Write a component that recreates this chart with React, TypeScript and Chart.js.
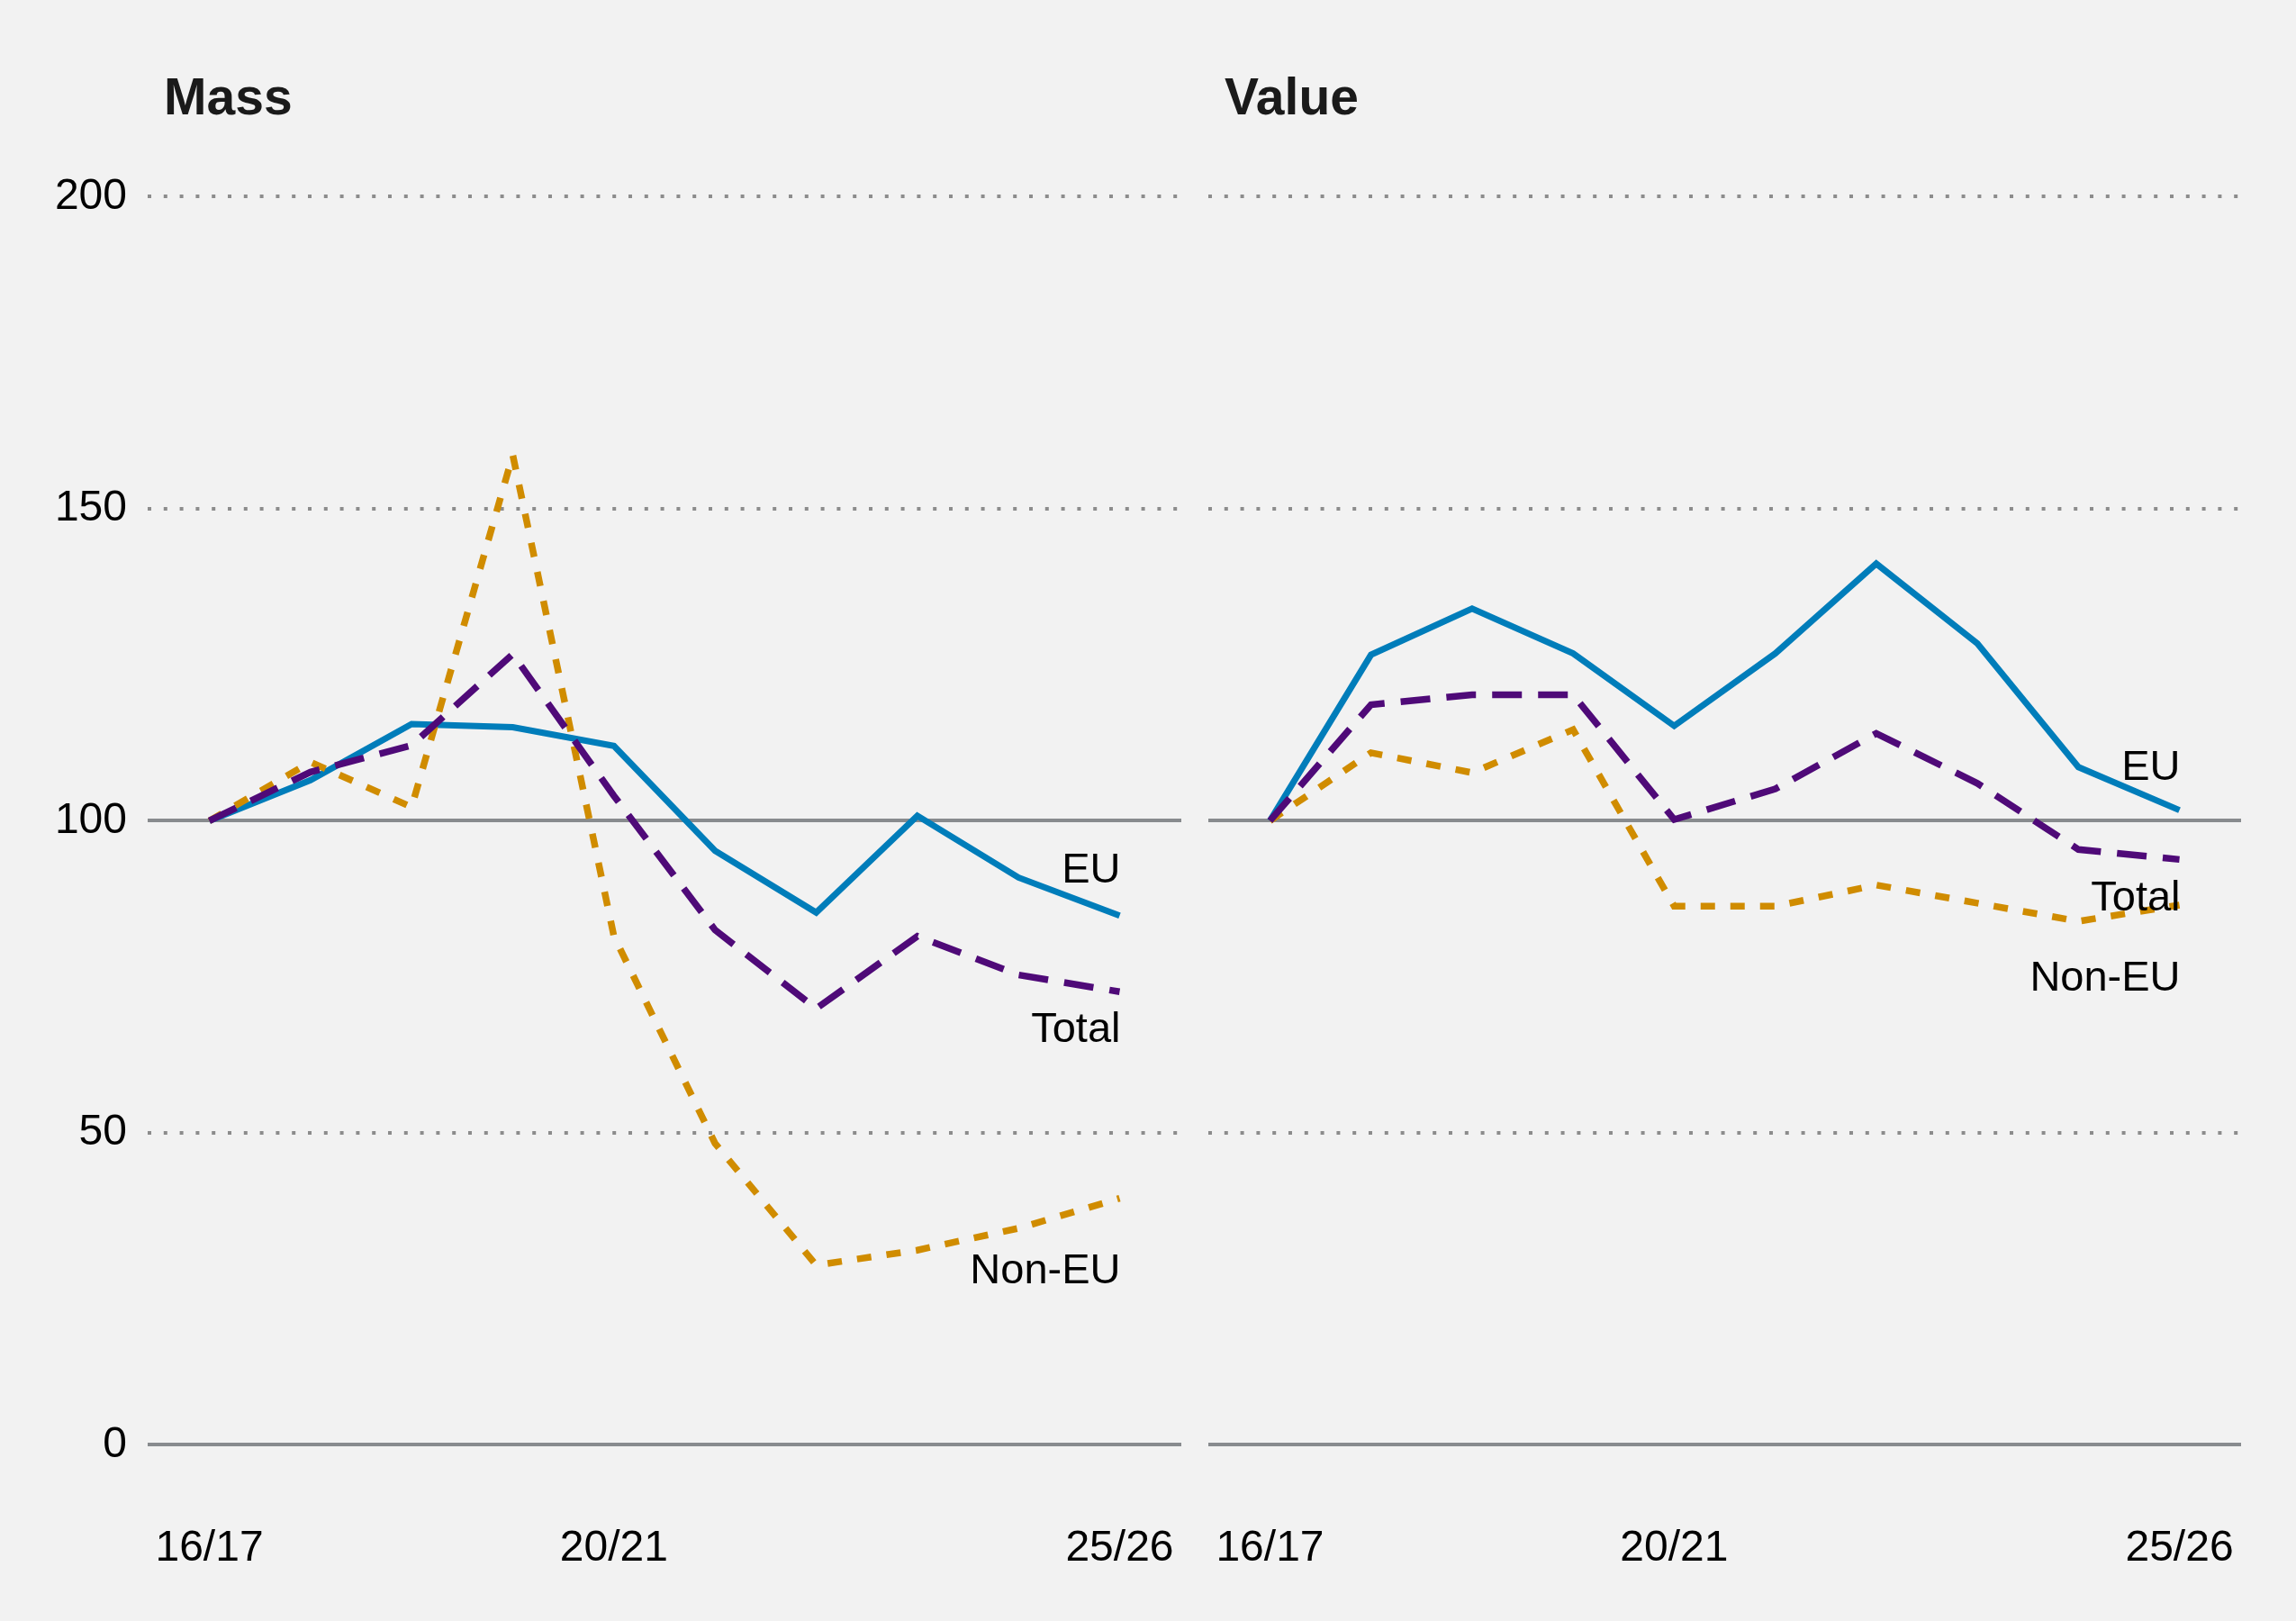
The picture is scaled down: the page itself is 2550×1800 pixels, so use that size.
import { useEffect, useRef } from 'react';
import { Chart, registerables } from 'chart.js';

Chart.register(...registerables);

// financial years on the x axis
const periods = ['16/17', '17/18', '18/19', '19/20', '20/21', '21/22', '22/23', '23/24', '24/25', '25/26'];
const shownTicks = [0, 4, 9];
const yTicks = [0, 50, 100, 150, 200];
const solidLines = [0, 100];

// index, 16/17 = 100
const massEU = [100, 106.5, 115.5, 115.0, 112.0, 95.2, 85.3, 100.8, 90.9, 84.8];
const massTotal = [100, 107.8, 112.1, 126.7, 104.0, 82.5, 69.9, 81.5, 75.3, 72.6];
const massNonEU = [100, 109.4, 102.2, 158.6, 81.5, 48.3, 28.8, 31.2, 34.7, 39.5];

const valueEU = [100, 126.6, 134.0, 126.8, 115.2, 126.8, 141.2, 128.4, 108.6, 101.7];
const valueTotal = [100, 118.6, 120.2, 120.2, 100.2, 105.1, 114.0, 106.0, 95.4, 93.8];
const valueNonEU = [100, 110.9, 107.7, 114.6, 86.3, 86.3, 89.7, 86.8, 83.9, 86.5];

// where the end-of-line names sit (in index units)
const seriesNames = ['EU', 'Total', 'Non-EU'];
const massLabelY = [92.0, 66.4, 27.7];
const valueLabelY = [108.4, 87.5, 74.6];

const BLUE = '#007dba';
const PURPLE = '#4f0a78';
const ORANGE = '#d08c00';
const FONT = '"Liberation Sans", Arial, Helvetica, sans-serif';

interface PanelProps {
  title: string;
  eu: number[];
  total: number[];
  nonEu: number[];
  labelY: number[];
  left: number;
  width: number;
  padLeft: number;
  padRight: number;
  showY: boolean;
}

function Panel({ title, eu, total, nonEu, labelY, left, width, padLeft, padRight, showY }: PanelProps) {
  const chartRef = useRef<HTMLCanvasElement>(null);

  useEffect(() => {
    if (!chartRef.current) return;
    const toPoints = (arr: number[]) => arr.map((y, i) => ({ x: i, y }));
    const isSolid = (c: any) => c.tick && solidLines.includes(c.tick.value);

    const textPlugin = {
      id: 'panelText',
      afterDatasetsDraw(chart: any) {
        const { ctx, chartArea, scales } = chart;
        ctx.save();
        // panel title
        ctx.font = `bold 57px ${FONT}`;
        ctx.fillStyle = '#1a1a1a';
        ctx.textAlign = 'left';
        ctx.textBaseline = 'alphabetic';
        ctx.fillText(title, chartArea.left + 18, 127);
        // series names at the line ends
        ctx.font = `47px ${FONT}`;
        ctx.fillStyle = '#000';
        ctx.textAlign = 'right';
        ctx.textBaseline = 'middle';
        const xEnd = scales.x.getPixelForValue(periods.length - 1);
        seriesNames.forEach((name, i) => {
          ctx.fillText(name, xEnd + 1, scales.y.getPixelForValue(labelY[i]));
        });
        ctx.restore();
      }
    };

    const chart = new Chart(chartRef.current, {
      type: 'line',
      data: {
        datasets: [
          {
            label: 'Total',
            data: toPoints(total),
            borderColor: PURPLE,
            borderWidth: 7.5,
            borderDash: [33, 18],
          },
          {
            label: 'Non-EU',
            data: toPoints(nonEu),
            borderColor: ORANGE,
            borderWidth: 7.5,
            borderDash: [16, 17],
          },
          {
            label: 'EU',
            data: toPoints(eu),
            borderColor: BLUE,
            borderWidth: 7,
          },
        ]
      },
      options: {
        animation: false,
        responsive: false,
        layout: { padding: { top: 218.4, left: padLeft, right: padRight, bottom: 0 } },
        elements: { point: { radius: 0 }, line: { tension: 0 } },
        plugins: {
          legend: { display: false },
          tooltip: { enabled: false },
        },
        scales: {
          x: {
            type: 'linear',
            min: -0.61,
            max: 9.61,
            grid: { display: false },
            border: { display: false },
            afterBuildTicks: (s: any) => { s.ticks = shownTicks.map(v => ({ value: v })); },
            afterFit: (s: any) => {
              s.height = 195.6;
              s.paddingLeft = 0;
              s.paddingRight = 0;
            },
            ticks: {
              autoSkip: false,
              maxRotation: 0,
              padding: 79,
              color: '#000',
              font: { family: FONT, size: 48 },
              callback: (v: any) => periods[v as number] ?? '',
            }
          },
          y: {
            min: 0,
            max: 200,
            afterBuildTicks: (s: any) => { s.ticks = yTicks.map(v => ({ value: v })); },
            afterFit: (s: any) => { s.width = showY ? 164 : 0; },
            grid: {
              drawTicks: false,
              lineWidth: 4,
              color: (c: any) => (isSolid(c) ? '#888b8e' : '#8c8c8c'),
            },
            border: {
              display: false,
              dash: (c: any) => (isSolid(c) ? [] : [4, 13.8]),
            },
            ticks: {
              display: showY,
              padding: 23,
              color: '#000',
              font: { family: FONT, size: 48 },
            }
          }
        }
      },
      plugins: [textPlugin]
    });

    return () => {
      chart.destroy();
    };
  }, []);

  return (
    <canvas
      ref={chartRef}
      width={width}
      height={1800}
      style={{ position: 'absolute', left, top: 0, width, height: 1800, display: 'block' }}
    />
  );
}

export default function App() {
  return (
    <div style={{ position: 'fixed', left: 0, top: 0, width: 2550, height: 1800, background: '#f2f2f2', overflow: 'hidden' }}>
      <Panel title="Mass" eu={massEU} total={massTotal} nonEu={massNonEU} labelY={massLabelY}
        left={0} width={1312} padLeft={0} padRight={0} showY={true} />
      <Panel title="Value" eu={valueEU} total={valueTotal} nonEu={valueNonEU} labelY={valueLabelY}
        left={1312} width={1238} padLeft={30} padRight={61} showY={false} />
    </div>
  );
}
